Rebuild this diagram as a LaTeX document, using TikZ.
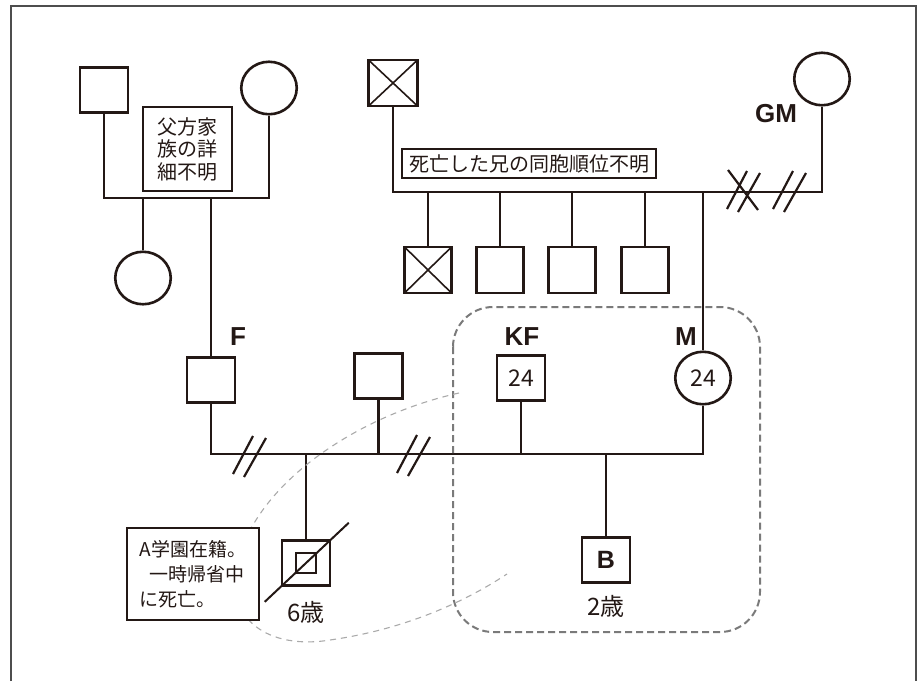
\documentclass[tikz,border=0pt]{standalone}
\usepackage{fontspec}
\setmainfont{Noto Sans CJK JP}
\newfontfamily\labfont{Liberation Sans}
\usepackage{tikz}
\usetikzlibrary{positioning,calc,shapes.geometric}
\definecolor{Ink}{HTML}{231815}
\definecolor{GroupGray}{HTML}{7A7A7A}
\definecolor{PaleGray}{HTML}{AAAAAA}
\definecolor{FrameGray}{HTML}{4D4D4D}

\begin{document}
\begin{tikzpicture}[
    x=1pt, y=-1pt,
    font=\fontsize{20}{22.5}\selectfont,
    kin/.style={draw=Ink, line width=2.6pt},
    male/.style={kin, rectangle, minimum width=48pt, minimum height=45pt, inner sep=0pt, text=Ink},
    female/.style={kin, ellipse, minimum width=55.5pt, minimum height=52.5pt, inner sep=0pt, text=Ink},
    deceased/.style={path picture={\draw[Ink, line width=1.6pt]
        (path picture bounding box.south west) -- (path picture bounding box.north east)
        (path picture bounding box.north west) -- (path picture bounding box.south east);}},
    innersq/.style={path picture={\draw[Ink, line width=2.2pt]
        ([shift={(-10,-10)}]path picture bounding box.center) rectangle ([shift={(10,10)}]path picture bounding box.center);}},
    notebox/.style={draw=Ink, line width=1.1pt, fill=white, text=Ink, inner sep=0pt},
    idtag/.style={text=Ink, inner sep=0pt, font=\labfont\bfseries\fontsize{26}{26}\selectfont},
    agetext/.style={text=Ink, inner sep=0pt, font=\fontsize{24}{24}\selectfont},
    numtext/.style={font=\fontsize{23}{23}\selectfont},
    cutmark/.style={Ink, line width=2.2pt},
    slashes/.pic={\draw[cutmark] (-16,18) -- (4,-20) (-5,21) -- (17,-18);},
    crossmark/.pic={\draw[cutmark] (-16,18) -- (4,-20) (-5,21) -- (17,-18) (-15,-21) -- (15,19);},
    famgroup/.style={GroupGray, line width=2pt, dash pattern=on 7pt off 4pt, rounded corners=40pt},
    notelink/.style={PaleGray, line width=1.1pt, dash pattern=on 6pt off 5pt}
  ]
    \useasboundingbox (0,0) rectangle (918,681);
    \draw[FrameGray, line width=1.5pt] (11,681) |- (916,6) -- (916,681);

    % father's side
    \node[male] (pgf) at (104,90) {};
    \node[female] (pgm) at (269,88) {};
    \node[notebox, minimum width=89pt, minimum height=84pt, align=center] (pnote) at (187.5,149) {父方家\\族の詳\\細不明};
    \node[female] (aunt) at (143,278) {};
    \node[male] (F) at (211,380) {};
    \node[idtag] (Ftag) at (238,337) {F};

    % mother's side
    \node[male, deceased, minimum width=49pt, minimum height=46pt] (mgf) at (393,83) {};
    \node[female] (GM) at (822,79) {};
    \node[idtag] (GMtag) at (776,114) {GM};
    \node[notebox, minimum width=254pt, minimum height=29pt] (sibnote) at (529,163.5) {死亡した兄の同胞順位不明};
    \node[male, deceased, minimum width=47pt, minimum height=46pt] (sib1) at (428,270) {};
    \node[male, minimum width=47pt, minimum height=46pt] (sib2) at (500,270) {};
    \node[male, minimum width=47pt, minimum height=46pt] (sib3) at (572,270) {};
    \node[male, minimum width=47pt, minimum height=46pt] (sib4) at (645,270) {};

    % household
    \node[female, numtext] (M) at (703,378) {24};
    \node[idtag] (Mtag) at (686,337) {M};
    \node[male, numtext] (KF) at (521,378) {24};
    \node[idtag] (KFtag) at (522,337) {KF};
    \node[male] (exh) at (378.5,376) {};
    \node[male, innersq] (child6) at (306,563) {};
    \node[agetext] (age6) at (306,612) {6歳};
    \node[male, font=\labfont\bfseries\fontsize{25}{25}\selectfont] (B) at (606,560) {B};
    \node[agetext] (age2) at (606,606) {2歳};

    \coordinate (pjoin) at (211,198);
    \coordinate (mjoin) at (703,192);
    \coordinate (cline) at (606,454);

    \draw[kin] (pgf.south) |- (pjoin) -| (pgm.south);
    \draw[kin] (aunt.north) |- (pjoin);
    \draw[kin] (pjoin) -- (F.north);

    \draw[kin] (mgf.south) |- (mjoin) -| (GM.south);
    \draw[kin] (sib1.north) -- (sib1.north |- mjoin);
    \draw[kin] (sib2.north) -- (sib2.north |- mjoin);
    \draw[kin] (sib3.north) -- (sib3.north |- mjoin);
    \draw[kin] (sib4.north) -- (sib4.north |- mjoin);
    \draw[kin] (mjoin) -- (M.north);

    \draw[kin] (F.south) |- (cline) -| (M.south);
    \draw[kin] (exh.south) -- (exh.south |- cline);
    \draw[kin] (KF.south) -- (KF.south |- cline);
    \draw[kin] (child6.north) -- (child6.north |- cline);
    \draw[kin] (B.north) -- (cline);
    \draw[cutmark, line width=2pt, shorten <=-22pt, shorten >=-24pt] (child6.south west) -- (child6.north east);

    \pic at (249,456) {slashes};
    \pic at (413,455) {slashes};
    \pic at (743,191) {crossmark};
    \pic at (789,191) {slashes};

    \draw[famgroup] (453,307) rectangle (760,632);
    \draw[notelink] (459,393) .. controls (360,415) and (260,480) .. (238,560)
      .. controls (222,620) and (270,650) .. (330,640)
      .. controls (400,630) and (460,605) .. (507,574);
    \node[notebox, minimum width=132pt, minimum height=92pt, align=left, font=\fontsize{19}{25}\selectfont] (anote) at (193,574) {A学園在籍。\\\hspace*{0.5em}一時帰省中\\に死亡。};
  \end{tikzpicture}
\end{document}
